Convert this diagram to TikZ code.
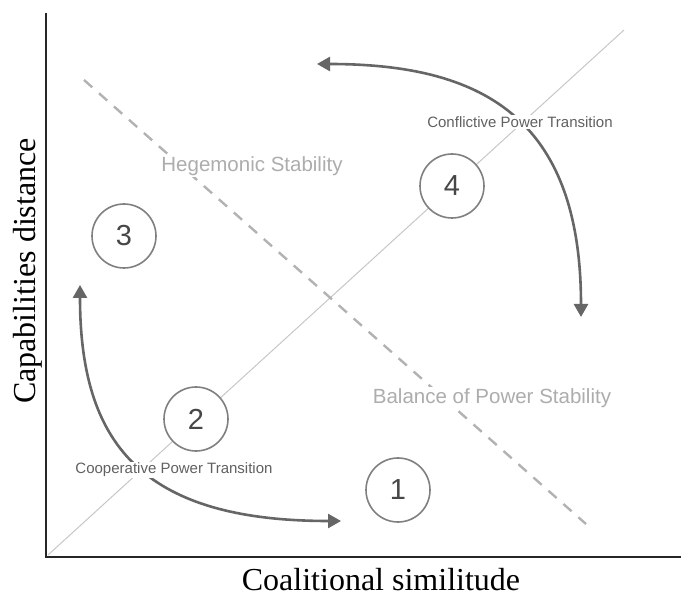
\documentclass[tikz,border=0pt]{standalone}
\usepackage{fontspec}
\setmainfont{Liberation Serif}
\setsansfont{Liberation Sans}
\usetikzlibrary{arrows.meta}

\begin{document}
\begin{tikzpicture}[x=1pt,y=-1pt,
 num/.style={circle,draw=black!50,line width=1.6pt,fill=white,minimum size=64pt,inner sep=0pt,font=\sffamily\fontsize{29}{29}\selectfont,text=black!72},
 region/.style={fill=white,inner sep=1.5pt,text=black!32,font=\sffamily\fontsize{20.5}{21}\selectfont},
 transit/.style={fill=white,inner sep=1.5pt,text=black!62,font=\sffamily\fontsize{15}{16}\selectfont},
 move/.style={draw=black!60,line width=2.6pt,{Triangle[length=13pt,width=14pt]}-{Triangle[length=13pt,width=14pt]}},
 axis/.style={draw=black!85,line width=2pt},
 axislabel/.style={inner sep=0pt,anchor=base,font=\fontsize{32}{33}\selectfont}]
\useasboundingbox (0,0) rectangle (681,596);
% axes
\coordinate (origin) at (46,557);
\coordinate (ytop) at (46,13);
\coordinate (xend) at (681,557);
\draw[axis] (ytop) |- (xend);
% guide lines
\coordinate (diagA) at (48,555);
\coordinate (diagB) at (624,30);
\draw[black!22,line width=1pt] (diagA) -- (diagB);
\coordinate (dashA) at (84,80);
\coordinate (dashB) at (586,524);
\draw[black!30,line width=2.4pt,dash pattern=on 11pt off 9pt] (dashA) -- (dashB);
% transitions
\coordinate (confA) at (581,317);
\coordinate (confB) at (317,64);
\draw[move] (confA) .. controls (581,116) and (480,64) .. (confB);
\coordinate (coopA) at (80,285);
\coordinate (coopB) at (341,521);
\draw[move] (coopA) .. controls (80,442) and (140,521) .. (coopB);
% labels
\node[region] (hege) at (252,166) {Hegemonic Stability};
\node[region] (balance) at (492,398) {Balance of Power Stability};
\node[transit] (conf) at (520,122) {Conflictive Power Transition};
\node[transit] (coop) at (174,470) {Cooperative Power Transition};
\node[num] (one) at (398,490) {1};
\node[num] (two) at (196,419) {2};
\node[num] (three) at (124,236) {3};
\node[num] (four) at (452,186) {4};
\node[axislabel] (xlab) at (381,590) {Coalitional similitude};
\node[axislabel,rotate=90] (ylab) at (35,271) {Capabilities distance};
\end{tikzpicture}
\end{document}
